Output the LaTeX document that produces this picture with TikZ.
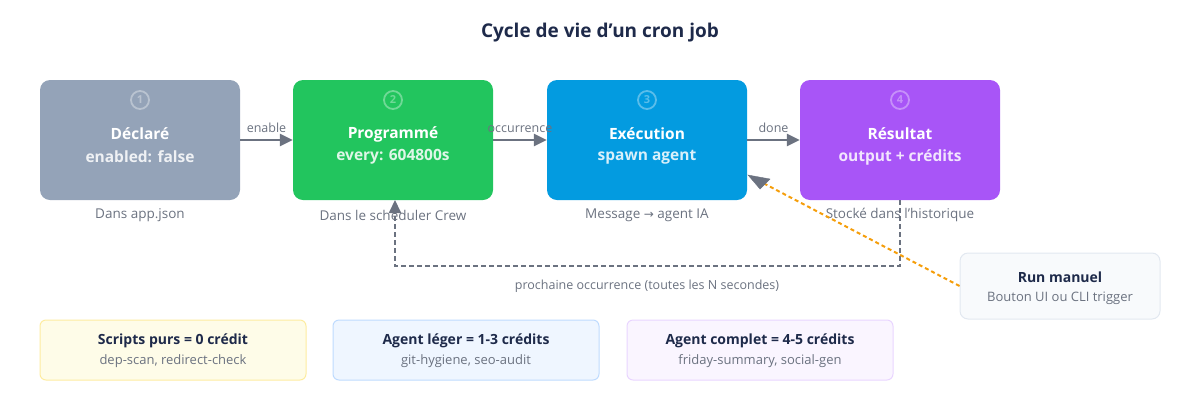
\documentclass[tikz,border=0pt]{standalone}
\usepackage{fontspec}
\setmainfont{Open Sans}
\newfontfamily\dv{DejaVu Sans}
\usetikzlibrary{arrows.meta}
\definecolor{cgray}{HTML}{94A3B8}
\definecolor{cgreen}{HTML}{22C55E}
\definecolor{cblue}{HTML}{039BE0}
\definecolor{cpurple}{HTML}{A855F7}
\definecolor{arr}{HTML}{6B7280}
\definecolor{navy}{HTML}{1E2A4A}
\definecolor{txt}{HTML}{6B7280}
\newcommand{\apos}{{\char"27}}
\begin{document}
\begin{tikzpicture}[x=1pt,y=-1pt,
 stage/.style={rounded corners=10pt,minimum width=200pt,minimum height=120pt,inner sep=0pt},
 stxt/.style={text=white,font=\bfseries\fontsize{15.5}{23}\selectfont},
 ssub/.style={text=white,text opacity=0.85,font=\fontseries{sb}\fontsize{15.5}{23}\selectfont},
 num/.style={circle,draw=white,draw opacity=0.35,line width=1.8pt,text=white,text opacity=0.35,inner sep=0pt,minimum size=18pt,font=\bfseries\fontsize{11}{11}\selectfont},
 capt/.style={text=txt,font=\fontsize{13.5}{16}\selectfont},
 flow/.style={draw=arr,line width=2.5pt,-{Triangle[length=13pt,width=12pt]}},
 lbl/.style={text=txt,font=\fontsize{12.5}{14}\selectfont},
 legend/.style={rounded corners=6pt,minimum width=266pt,minimum height=60pt,line width=1pt,align=center,inner sep=0pt},
 lt/.style={font=\bfseries\fontsize{14}{20}\selectfont,text=navy},
 ls/.style={font=\fontsize{13}{17}\selectfont,text=txt},
]
\useasboundingbox (0,0) rectangle (1200,400);
\node[font=\bfseries\fontsize{19}{22}\selectfont,text=navy] (title) at (600,33) {Cycle de vie d\apos un cron job};
\node[stage,fill=cgray] (s1) at (140,140) {};
\node[stage,fill=cgreen] (s2) at (393,140) {};
\node[stage,fill=cblue] (s3) at (647,140) {};
\node[stage,fill=cpurple] (s4) at (900,140) {};
\foreach \n/\x/\a/\b in {1/140/Déclaré/enabled: false,2/393/Programmé/every: 604800s,3/647/Exécution/spawn agent,4/900/Résultat/output + crédits}{
  \node[num] (n\n) at (\x,100) {\n};
  \node[stxt] (t\n) at (\x,134) {\a};
  \node[ssub] (u\n) at (\x,157) {\b};
}
\node[capt] (c1) at (140,215) {Dans app.json};
\node[capt] (c2) at (393,215) {Dans le scheduler Crew};
\node[capt] (c3) at (647,215) {Message {\dv\fontsize{12}{14}\selectfont →} agent IA};
\node[capt] (c4) at (900,215) {Stocké dans l\apos historique};
\draw[flow] (s1) -- node[lbl,above=3pt]{enable} (s2);
\draw[flow] (s2) -- node[lbl,above=3pt]{occurrence} (s3);
\draw[flow] (s3) -- node[lbl,above=3pt]{done} (s4);
\coordinate (l1) at (900,266);
\coordinate (l2) at (395,266);
\draw[draw=arr,line width=2pt,dash pattern=on 5pt off 3pt,-{Triangle[length=13pt,width=12pt]}] (s4.south) -- (l1) -- (l2) -- (395,200);
\node[lbl] (ll) at (647,286) {prochaine occurrence (toutes les N secondes)};
\node[rounded corners=8pt,draw={rgb,255:red,226;green,232;blue,240},fill={rgb,255:red,248;green,250;blue,252},line width=1pt,minimum width=200pt,minimum height=66pt,inner sep=0pt] (run) at (1060,286) {};
\node[lt] (r1) at (1060,277) {Run manuel};
\node[ls] (r2) at (1060,298) {Bouton UI ou CLI trigger};
\draw[draw={rgb,255:red,245;green,158;blue,11},line width=2pt,dash pattern=on 4pt off 3pt] (run.west) -- (763,183);
\draw[fill=arr,draw=arr] (748,175) -- (770,179) -- (760,189) -- cycle;
\node[legend,fill={rgb,255:red,254;green,252;blue,232},draw={rgb,255:red,253;green,236;blue,160}] (g1) at (173,350) {};
\node[legend,fill={rgb,255:red,239;green,246;blue,255},draw={rgb,255:red,191;green,219;blue,254}] (g2) at (466,350) {};
\node[legend,fill={rgb,255:red,250;green,245;blue,255},draw={rgb,255:red,233;green,213;blue,255}] (g3) at (760,350) {};
\node[lt] (h1) at (173,341) {Scripts purs = 0 crédit};
\node[ls] (k1) at (173,361) {dep-scan, redirect-check};
\node[lt] (h2) at (466,341) {Agent léger = 1-3 crédits};
\node[ls] (k2) at (466,361) {git-hygiene, seo-audit};
\node[lt] (h3) at (760,341) {Agent complet = 4-5 crédits};
\node[ls] (k3) at (760,361) {friday-summary, social-gen};
\end{tikzpicture}
\end{document}
